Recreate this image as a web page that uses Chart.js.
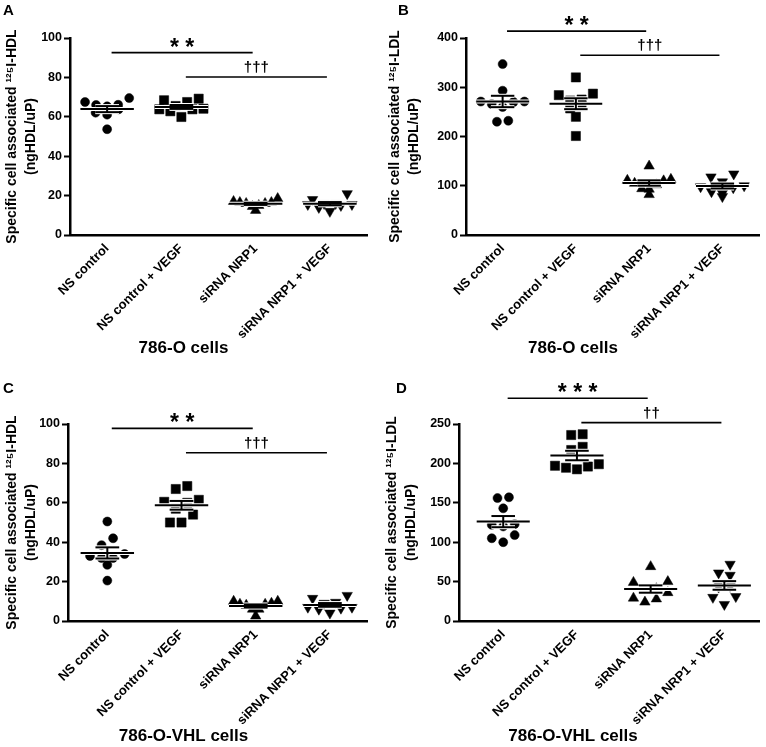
<!DOCTYPE html>
<html><head><meta charset="utf-8">
<script src="https://cdn.jsdelivr.net/npm/chart.js@4"></script>
<style>
body{margin:0;background:#fff;width:766px;height:747px;position:relative;overflow:hidden;font-family:"Liberation Sans",Arial,sans-serif;}
canvas{position:absolute;}
.lbl{position:absolute;font-weight:bold;font-size:15px;line-height:15px;color:#000;}
</style></head><body>
<canvas id="cA" width="383" height="386" style="left:0;top:0"></canvas>
<canvas id="cB" width="383" height="386" style="left:383px;top:0"></canvas>
<canvas id="cC" width="383" height="375" style="left:0;top:372px"></canvas>
<canvas id="cD" width="383" height="375" style="left:383px;top:372px"></canvas>
<div class="lbl" style="left:3px;top:2px">A</div>
<div class="lbl" style="left:398px;top:2px">B</div>
<div class="lbl" style="left:3px;top:380px">C</div>
<div class="lbl" style="left:396px;top:380px">D</div>
<script>
// ---------- data ----------
const categories = ["NS control", "NS control + VEGF", "siRNA NRP1", "siRNA NRP1 + VEGF"];

// A: 786-O cells, 125I-HDL
const aNsControl   = [69.5, 67.5, 66.1, 66, 65.3, 63.8, 62.1, 61.1, 53.7];
const aNsVegf      = [69.2, 68.4, 67.5, 65.5, 64.1, 63.8, 63.8, 62.8, 59.9];
const aSiNrp1      = [18.5, 17, 16.5, 16.5, 16, 16, 15, 14.5, 12.5];
const aSiNrp1Vegf  = [21, 18, 16, 16, 15.5, 15.5, 15, 14, 12];
const aYTicks      = [0, 20, 40, 60, 80, 100];
const aSigLevels   = [92.6, 80.2];
const aSigMarks    = ["* *", "†††"];

// B: 786-O cells, 125I-LDL
const bNsControl   = [347, 293, 271, 271, 270, 266, 260, 232, 230];
const bNsVegf      = [320, 287, 284, 275, 273, 262, 257, 240, 201];
const bSiNrp1      = [140, 113, 111, 110, 105, 102, 94, 93, 82];
const bSiNrp1Vegf  = [124, 118, 108, 100, 98, 96, 88, 85, 78];
const bYTicks      = [0, 100, 200, 300, 400];
const bSigLevels   = [414, 365];
const bSigMarks    = ["* *", "†††"];

// C: 786-O-VHL cells, 125I-HDL
const cNsControl   = [50.5, 42, 38.5, 34, 33, 32, 32, 28.5, 20.5];
const cNsVegf      = [68.5, 67, 61.5, 60.5, 60, 57, 54, 50, 50];
const cSiNrp1      = [10, 10, 9, 8.5, 8.5, 8, 6, 6, 2.5];
const cSiNrp1Vegf  = [13, 11.5, 9.5, 9, 7, 7, 6.5, 6, 4];
const cYTicks      = [0, 20, 40, 60, 80, 100];
const cSigLevels   = [97.8, 85.4];
const cSigMarks    = ["* *", "†††"];

// D: 786-O-VHL cells, 125I-LDL
const dNsControl   = [157, 156, 143, 123, 122, 120, 109, 105, 100];
const dNsVegf      = [237, 236, 221, 217, 199, 197, 196, 194.5, 192.5];
const dSiNrp1      = [69, 50, 49, 41, 39, 36, 29, 28, 24];
const dSiNrp1Vegf  = [72, 61, 58, 46, 44, 43, 31, 30, 21];
const dYTicks      = [0, 50, 100, 150, 200, 250];
const dSigLevels   = [282.7, 251.7];
const dSigMarks    = ["* * *", "††"];

const sigPairs = [[1, 3], [2, 4]];
const titleHDL = ["Specific cell associated \u00B9\u00B2\u2075I-HDL", "(ngHDL/uP)"];
const titleLDL = ["Specific cell associated \u00B9\u00B2\u2075I-LDL", "(ngHDL/uP)"];

// ---------- rendering ----------
const FONT = '"Liberation Sans", Arial, sans-serif';
Chart.defaults.font.family = FONT;
Chart.defaults.color = '#000';

// scatter-dot-plot layout: points binned into rows, spread symmetrically
const PLOT_H = 197, PX_PER_CAT = 74, ROW_PX = 10, SPACING = 11.5, MAX_HALF = 22;
function swarm(values, center, yRange) {
  const pxPerY = PLOT_H / yRange;
  const idx = values.map((v, i) => i).sort((a, b) => values[b] - values[a]);
  const out = new Array(values.length);
  let k = 0;
  while (k < idx.length) {
    const top = values[idx[k]];
    const row = [];
    while (k < idx.length && (top - values[idx[k]]) * pxPerY < ROW_PX) { row.push(idx[k]); k++; }
    const n = row.length;
    const sp = n > 1 ? Math.min(SPACING, 2 * MAX_HALF / (n - 1)) : 0;
    const slots = [];
    for (let j = 0; j < n; j++) slots.push((j - (n - 1) / 2) * sp);
    slots.sort((a, b) => Math.abs(a) - Math.abs(b) || a - b);
    row.sort((a, b) => values[a] - values[b]);
    row.forEach((pi, j) => { out[pi] = {x: center + slots[j] / PX_PER_CAT, y: values[pi]}; });
  }
  return out;
}

const meanSemPlugin = {
  id: 'meanSem',
  afterDatasetsDraw(chart) {
    const {ctx, scales: {x, y}} = chart;
    chart.data.datasets.forEach((ds, i) => {
      const vals = ds.data.map(p => p.y);
      const n = vals.length;
      const m = vals.reduce((a, b) => a + b, 0) / n;
      const sd = Math.sqrt(vals.reduce((a, b) => a + (b - m) * (b - m), 0) / (n - 1));
      const sem = sd / Math.sqrt(n);
      const c = i + 1;
      const segs = [[c - 0.36, m, c + 0.36, m], [c - 0.16, m + sem, c + 0.16, m + sem],
                    [c - 0.16, m - sem, c + 0.16, m - sem], [c, m - sem, c, m + sem]];
      ctx.save();
      ctx.lineCap = 'butt';
      [[4, '#fff'], [2, '#000']].forEach(([w, col]) => {
        ctx.lineWidth = w; ctx.strokeStyle = col;
        segs.forEach(s => {
          ctx.beginPath();
          ctx.moveTo(x.getPixelForValue(s[0]), y.getPixelForValue(s[1]));
          ctx.lineTo(x.getPixelForValue(s[2]), y.getPixelForValue(s[3]));
          ctx.stroke();
        });
      });
      ctx.restore();
    });
  }
};

function makeSig(levels, marks) {
  return {
    id: 'sig',
    afterDraw(chart) {
      const {ctx, scales: {x, y}} = chart;
      ctx.save();
      levels.forEach((lv, k) => {
        const [a, b] = sigPairs[k];
        const x1 = x.getPixelForValue(a + 0.06), x2 = x.getPixelForValue(b - 0.04);
        const yy = y.getPixelForValue(lv);
        ctx.strokeStyle = '#000'; ctx.lineWidth = 1.6;
        ctx.beginPath(); ctx.moveTo(x1, yy); ctx.lineTo(x2, yy); ctx.stroke();
        const star = marks[k].includes('*');
        ctx.fillStyle = '#000';
        ctx.font = star ? 'bold 23px ' + FONT : 'bold 15px ' + FONT;
        ctx.textAlign = 'center'; ctx.textBaseline = 'alphabetic';
        ctx.fillText(marks[k], (x1 + x2) / 2, star ? yy + 2 : yy - 5);
      });
      ctx.restore();
    }
  };
}

const styles = [
  {pointStyle: 'circle', radius: 4.5, rotation: 0},
  {pointStyle: 'rect', radius: 6.5, rotation: 0},
  {pointStyle: 'triangle', radius: 6, rotation: 0},
  {pointStyle: 'triangle', radius: 6, rotation: 180}
];

function buildChart(canvasId, p) {
  const yMin = p.yTicks[0], yMax = p.yTicks[p.yTicks.length - 1];
  const datasets = p.groups.map((vals, i) => ({
    data: swarm(vals, i + 1, yMax - yMin),
    pointStyle: styles[i].pointStyle,
    pointRadius: styles[i].radius,
    pointRotation: styles[i].rotation,
    backgroundColor: '#000', borderColor: '#000', borderWidth: 0.5
  }));
  const L = p.layout;
  const titleLH = 17 * 1.2;
  const padBottom = L.h - L.titleY - titleLH / 2;
  const xAxisH = L.h - (titleLH + padBottom) - L.bottom;
  return new Chart(document.getElementById(canvasId), {
    type: 'scatter',
    data: {datasets},
    options: {
      responsive: false, animation: false, devicePixelRatio: 1,
      layout: {padding: {top: L.top, right: L.w - L.right, left: 0, bottom: 0}},
      plugins: {
        legend: {display: false}, tooltip: {enabled: false},
        title: {display: true, text: p.xTitle, position: 'bottom', color: '#000',
                font: {size: 17, weight: 'bold', lineHeight: 1.2}, padding: {top: 0, bottom: padBottom}}
      },
      scales: {
        x: {
          type: 'linear', min: p.xMin, max: p.xMax,
          afterBuildTicks: s => { s.ticks = categories.map((c, i) => ({value: i + 1})); },
          afterFit: s => { s.height = xAxisH; },
          grid: {display: false, drawTicks: false},
          border: {display: true, color: '#000', width: 2.5},
          ticks: {autoSkip: false, maxRotation: 45, minRotation: 45, padding: 6, color: '#000',
                  font: {size: 13, weight: 'bold'},
                  callback: v => categories[Math.round(v) - 1] || ''}
        },
        y: {
          min: yMin, max: yMax,
          afterBuildTicks: s => { s.ticks = p.yTicks.map(v => ({value: v})); },
          afterFit: s => { s.width = L.left; },
          grid: {display: true, drawOnChartArea: false, drawTicks: true, tickLength: 6, tickWidth: 2, tickColor: '#000'},
          border: {display: true, color: '#000', width: 2.5},
          ticks: {padding: 2, color: '#000', font: {size: 12.5, weight: 'bold'}},
          title: {display: true, text: p.yTitle, color: '#000',
                  font: {size: 14, weight: 'bold', lineHeight: 1.35}, padding: {top: p.yTitlePad, bottom: 0}}
        }
      }
    },
    plugins: [meanSemPlugin, makeSig(p.sigLevels, p.sigMarks)]
  });
}

buildChart('cA', {
  groups: [aNsControl, aNsVegf, aSiNrp1, aSiNrp1Vegf], yTicks: aYTicks,
  yTitle: titleHDL, xTitle: '786-O cells', sigLevels: aSigLevels, sigMarks: aSigMarks,
  xMin: 0.5, xMax: 4.5, yTitlePad: 2.5,
  layout: {w: 383, h: 386, left: 70, right: 367, top: 38, bottom: 235, titleY: 348}
});
buildChart('cB', {
  groups: [bNsControl, bNsVegf, bSiNrp1, bSiNrp1Vegf], yTicks: bYTicks,
  yTitle: titleLDL, xTitle: '786-O cells', sigLevels: bSigLevels, sigMarks: bSigMarks,
  xMin: 0.5, xMax: 4.5, yTitlePad: 2.3,
  layout: {w: 383, h: 386, left: 83, right: 380, top: 38, bottom: 235, titleY: 348}
});
buildChart('cC', {
  groups: [cNsControl, cNsVegf, cSiNrp1, cSiNrp1Vegf], yTicks: cYTicks,
  yTitle: titleHDL, xTitle: '786-O-VHL cells', sigLevels: cSigLevels, sigMarks: cSigMarks,
  xMin: 0.47, xMax: 4.5, yTitlePad: 2.5,
  layout: {w: 383, h: 375, left: 68, right: 367, top: 52, bottom: 249, titleY: 364.5}
});
buildChart('cD', {
  groups: [dNsControl, dNsVegf, dSiNrp1, dSiNrp1Vegf], yTicks: dYTicks,
  yTitle: titleLDL, xTitle: '786-O-VHL cells', sigLevels: dSigLevels, sigMarks: dSigMarks,
  xMin: 0.4, xMax: 4.47, yTitlePad: 0,
  layout: {w: 383, h: 375, left: 76, right: 380, top: 52, bottom: 249, titleY: 364.5}
});
</script>
</body></html>
